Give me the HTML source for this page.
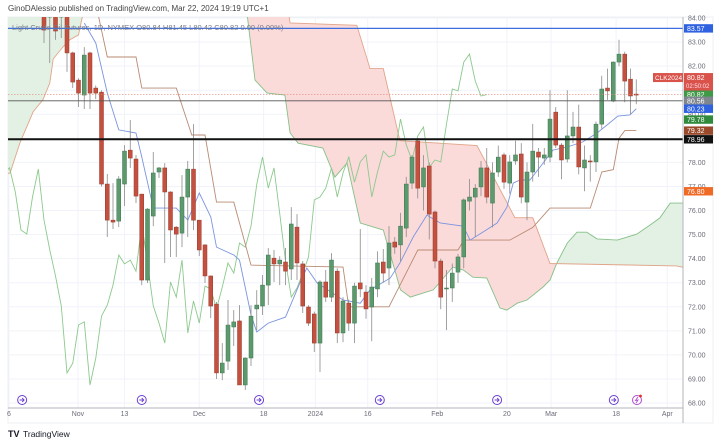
<!DOCTYPE html>
<html style="margin:0;overflow:hidden;width:722px;height:441px"><head><meta charset="utf-8"><style>
html,body{margin:0;padding:0;background:#fff;width:722px;height:441px;overflow:hidden;font-family:"Liberation Sans",sans-serif}
svg{display:block;position:absolute;left:0;top:0}
</style></head><body>
<svg id="chart" width="722" height="441" xmlns="http://www.w3.org/2000/svg" font-family="Liberation Sans, sans-serif" overflow="hidden">
<text x="8" y="11" font-size="8" fill="#444">GinoDAlessio published on TradingView.com, Mar 22, 2024 19:19 UTC+1</text>
<rect x="8" y="17" width="705" height="406" fill="#fff" stroke="#eceff3"/>
<g id="grid"></g><g id="cloud"></g><g id="lines"></g><g id="candles"></g><g id="hlines"></g>
<text x="12" y="30" font-size="7.5" fill="#787b86">Light Crude Oil Futures, 1D, NYMEX  O80.84  H81.45  L80.42  C80.82  0.00 (0.00%)</text>
<line x1="8" y1="408" x2="683" y2="408" stroke="#b2b5be"/>
<line x1="683" y1="17" x2="683" y2="423" stroke="#b2b5be"/>
<g id="axes"></g><g id="badges"></g><g id="icons"></g>
<g><text x="8" y="437" font-size="9" font-weight="bold" fill="#131722">TV</text><text x="23" y="437" font-size="8.5" fill="#131722">TradingView</text></g>
</svg>
<script>
const opens=[84.33,84.04,84.33,84.04,84.33,82.55,81.42,80.80,82.55,81.09,80.92,77.10,75.60,75.56,77.10,78.51,78.14,76.68,73.11,75.77,77.60,77.77,76.77,75.31,75.06,76.56,77.72,75.60,74.57,73.28,72.11,69.25,69.74,71.16,71.41,68.75,69.87,71.91,72.03,72.90,74.02,73.78,73.86,73.57,75.31,73.78,71.99,71.70,70.49,73.03,72.40,73.48,70.91,72.15,71.32,72.99,72.61,71.99,72.74,73.86,73.61,74.69,74.57,75.27,77.14,78.89,76.98,77.85,75.94,73.90,72.78,72.78,73.44,74.07,76.39,76.56,76.98,77.77,76.31,77.60,78.31,77.14,78.06,78.35,76.35,77.60,78.43,78.18,78.22,80.09,78.72,78.14,79.10,79.47,77.77,78.06,78.02,79.59,81.09,80.55,82.17,82.50,81.46,80.84];
const closes=[83.50,84.33,83.46,84.33,82.55,81.34,80.88,82.46,80.88,80.88,77.10,75.60,75.52,77.31,78.47,78.18,76.60,73.11,76.06,77.56,77.77,76.77,75.19,75.02,76.56,77.72,75.60,74.36,73.28,72.03,69.25,69.66,71.24,71.37,68.75,69.87,71.61,72.07,72.90,74.15,73.78,73.94,73.48,75.44,73.82,72.03,71.32,70.49,73.03,72.40,73.94,70.91,72.24,71.32,72.86,72.74,71.91,72.82,73.82,73.40,74.65,74.48,75.35,77.10,78.22,76.93,77.77,75.85,73.90,72.40,72.78,73.40,74.07,76.44,76.56,76.93,77.77,76.56,77.56,78.22,77.18,78.02,78.31,76.56,77.60,78.47,78.22,78.31,79.80,78.72,78.10,79.10,79.47,77.81,78.10,78.02,79.59,81.05,80.97,82.17,82.50,81.38,80.76,80.82];
const highs=[84.6,84.6,84.6,84.6,84.6,82.6,81.5,82.79,82.6,81.2,81.0,77.52,77.14,77.43,78.72,79.76,78.31,76.7,76.1,78.43,77.81,77.97,76.8,75.35,77.47,78.06,79.59,75.6,74.6,73.3,72.2,70.49,72.28,71.86,72.07,69.9,72.07,72.69,73.32,74.44,74.36,74.1,74.44,76.14,75.85,73.9,72.07,71.8,73.1,73.53,74.23,73.6,72.4,72.3,73.0,75.23,72.9,73.2,74.3,74.4,75.35,74.9,75.9,77.4,78.3,78.93,78.3,78.0,76.0,74.0,73.53,73.8,74.2,76.5,77.31,77.1,78.06,78.6,78.0,78.7,78.4,78.3,78.9,78.8,78.0,79.6,78.6,78.6,81.0,80.3,78.8,81.0,80.1,80.4,78.7,78.3,79.7,81.6,81.9,82.2,83.1,82.6,81.9,81.45];
const lows=[82.96,82.13,83.09,83.17,81.76,81.09,80.30,80.22,80.22,80.63,77.0,74.90,75.23,75.31,76.19,77.77,76.31,72.90,72.99,75.35,77.35,73.82,74.07,74.07,74.48,74.90,75.19,74.11,72.99,71.53,69.00,68.95,69.37,70.37,68.75,68.54,69.54,71.03,71.66,72.07,73.03,72.90,72.90,73.11,73.11,71.74,71.2,70.12,69.29,72.2,72.2,70.49,70.53,71.0,70.49,72.4,71.5,70.57,72.4,73.0,72.9,74.2,73.9,74.9,76.9,76.5,76.0,74.8,73.6,71.9,71.03,72.2,73.0,73.6,76.0,74.9,76.6,76.3,75.3,77.4,76.9,76.7,77.9,76.3,75.6,77.2,77.4,77.9,78.0,78.6,77.3,78.0,78.8,77.5,76.8,77.2,77.6,79.4,80.6,80.5,82.0,80.5,80.0,80.42];
const tenkanIdx=[7,9,11,13,16,17,19,23,25,27,29,30,33,34,36,37,39,42,44.5,45.7,47.5,52,55,56.7,60.2,61.9,64.2,66.6,68.9,72.9,74.1,76.3,78.8,80.5,81.6,82.8,84.5,86.8,88.5,91,93.7,96.2,97.9,99.8,101.9,103];
const tenkanVal=[83.79,82.96,80.88,79.35,79.22,78.22,76.10,76.10,75.60,76.73,75.73,74.48,74.15,73.94,71.66,70.95,71.32,71.57,72.99,73.61,72.99,72.28,72.15,72.70,73.19,73.82,74.90,75.81,75.48,75.35,74.77,75.10,75.48,76.14,77.14,77.27,77.27,77.97,78.51,78.64,78.85,79.22,79.55,79.93,79.97,80.23];
const kijunIdx=[9,10,11,16,17,23,25.7,28,30,33,36,52,53,60,65,72,73,81,82,85,88,95,97,99,100,101,103];
const kijunVal=[84.6,83.5,82.38,82.38,81.09,81.09,79.14,79.14,76.35,76.35,73.73,73.65,72.0,72.0,74.36,74.36,74.77,74.77,74.9,75.3,76.1,76.1,77.6,77.7,79.0,79.32,79.32];
const spanAIdx=[-7,35,35.3,36.7,38.8,41.9,42.8,44.2,48.5,50.6,52.7,55,59,62,63.7,67.7,71.1,72.9,74.6,77,79.3,80.5,82.3,84,86.8,88,89.2,91,92.7,94.4,96.2,99.7,103.1,105.4,107.1,108.9,112];
const spanAVal=[86,86,84.2,81.42,80.88,80.8,79.22,78.8,78.6,77.39,77.97,75.48,75.19,72.7,72.4,72.7,73.65,73.53,73.23,73.19,71.95,71.86,72.15,72.28,72.82,73.11,73.82,74.65,75.1,75.1,74.82,74.77,75.02,75.4,75.69,76.31,76.31];
const spanBIdx=[-7,-5.9,-4.2,-1.9,-0.2,1,1.6,3.3,4.5,6,7.5,42,42.8,54.4,56.7,59,61.9,75.3,81.9,85,88,110,112];
const spanBVal=[77.5,77.56,78.8,80.1,80.6,81.3,82.3,82.8,83.1,83.3,85,85,83.8,83.7,81.9,81.9,78.9,78.7,75.7,75.7,73.8,73.7,73.6];
const priceTicks=[84,83,82,81,80,79,78,77,76,75,74,73,72,71,70,69,68];
const dateLabels=["6","Nov","13","Dec","18","2024","16","Feb","20","Mar","18","Apr"];
const dateIdx=[-6.1,5.9,14,27,38.2,47.2,56.3,68.4,80.5,88.2,99.5,108.4];
const levelVals=[83.57,80.56,78.96];
const badgeLabels=["83.57","80.82","80.56","80.23","79.78","79.32","78.96","76.80"];
const badgeVals=[83.57,80.82,80.56,80.23,79.78,79.32,78.96,76.80];
const eventIdx=[-3.8,17.0,37.4,58.4,78.8,99.1];

const NS='http://www.w3.org/2000/svg';
const X0=8,X1=683,Y0=17,Y1=408;
function xS(i){return 44+i*5.75;}
function yS(p){return 403-(p-68)*24.06;}
function mk(tag,attrs,parent){const e=document.createElementNS(NS,tag);for(const k in attrs)e.setAttribute(k,attrs[k]);parent.appendChild(e);return e;}
const svg=document.getElementById('chart');
const defs=mk('defs',{},svg);
const cp=mk('clipPath',{id:'plotclip'},defs);mk('rect',{x:X0,y:Y0,width:X1-X0,height:Y1-Y0},cp);
['grid','cloud','lines','candles','hlines'].forEach(id=>document.getElementById(id).setAttribute('clip-path','url(#plotclip)'));

const grid=document.getElementById('grid');
priceTicks.forEach(p=>{const l=mk('line',{x1:X0,x2:X1,y1:yS(p),y2:yS(p),stroke:'#f0f3fa'},grid);

});
dateIdx.forEach(d=>{const l=mk('line',{x1:xS(d),x2:xS(d),y1:Y0,y2:Y1,stroke:'#f0f3fa'},grid);

});

function pts(ix,vals){return ix.map((d,k)=>Math.min(Math.max(xS(d),0),720).toFixed(1)+','+Math.min(Math.max(yS(vals[k]),1),424).toFixed(1));}
const aPts=pts(spanAIdx,spanAVal),bPts=pts(spanBIdx,spanBVal);
const aL=Math.max(xS(spanAIdx[0]),0),aR=Math.min(xS(spanAIdx[spanAIdx.length-1]),720),bL=Math.max(xS(spanBIdx[0]),0),bR=Math.min(xS(spanBIdx[spanBIdx.length-1]),720);
const underA=mk('clipPath',{id:'underA'},defs);mk('polygon',{points:aPts.join(' ')+` ${aR},425 ${aL},425`},underA);
const overA=mk('clipPath',{id:'overA'},defs);mk('polygon',{points:aPts.join(' ')+` ${aR},0 ${aL},0`},overA);
const cloud=document.getElementById('cloud');
const gA=mk('g',{'clip-path':'url(#overA)'},cloud);
const redFill=mk('polygon',{points:bPts.join(' ')+` ${bR},425 ${bL},425`,fill:'#fbdada'},gA);


const gB=mk('g',{'clip-path':'url(#underA)'},cloud);
const grnFill=mk('polygon',{points:bPts.join(' ')+` ${bR},0 ${bL},0`,fill:'#e3f1e4'},gB);



const lines=document.getElementById('lines');
function poly(ix,vals,color,name){const e=mk('polyline',{points:ix.map((d,k)=>xS(d).toFixed(1)+','+yS(vals[k]).toFixed(1)).join(' '),fill:'none',stroke:color,'stroke-width':0.9},lines);

}
poly(spanAIdx,spanAVal,'#86c088','senkou-span-a');
poly(spanBIdx,spanBVal,'#e0a58a','senkou-span-b');
const chIdx=closes.map((c,i)=>i-26);
poly(chIdx,closes,'#8cc98c','chikou-span');
poly(kijunIdx,kijunVal,'#b98b72','kijun-sen');
poly(tenkanIdx,tenkanVal,'#7b95e0','tenkan-sen');

const cg=document.getElementById('candles');
opens.forEach((o,i)=>{const c=closes[i],up=c>=o;
const col=up?'#5c9a6e':'#c4513f',edge=up?'#3f7650':'#9a3a2c';
const x=xS(i);
const g=mk('g',{},cg);


mk('line',{x1:x,x2:x,y1:yS(highs[i]),y2:yS(lows[i]),stroke:'#8a8a8a','stroke-width':0.8},g);
const top=yS(Math.max(o,c)),bot=yS(Math.min(o,c));
mk('rect',{x:x-2,y:top,width:4,height:Math.max(1,bot-top),fill:col,stroke:edge,'stroke-width':0.5},g);});

const hl=document.getElementById('hlines');
const l1=mk('line',{x1:X0,x2:X1,y1:yS(levelVals[0]),y2:yS(levelVals[0]),stroke:'#3d6fe0','stroke-width':1.2},hl);


const l2=mk('line',{x1:X0,x2:X1,y1:yS(levelVals[1]),y2:yS(levelVals[1]),stroke:'#555','stroke-width':0.9},hl);


const l3=mk('line',{x1:X0,x2:X1,y1:yS(levelVals[2]),y2:yS(levelVals[2]),stroke:'#111','stroke-width':2},hl);


const l4=mk('line',{x1:X0,x2:X1,y1:yS(closes[closes.length-1]),y2:yS(closes[closes.length-1]),stroke:'#e08a7a','stroke-width':0.7,'stroke-dasharray':'1.5,1.5'},hl);



const ax=document.getElementById('axes');
priceTicks.forEach(p=>{const t=mk('text',{x:688,y:yS(p)+2.5,'font-size':7,fill:'#6a6d78'},ax);t.textContent=p.toFixed(2);

});
dateLabels.forEach((d,k)=>{const t=mk('text',{x:xS(dateIdx[k]),y:416,'font-size':7,fill:'#6a6d78','text-anchor':'middle'},ax);t.textContent=d;

});

const bg=document.getElementById('badges');
const bcols=['#2f62e0','#3f9a48','#80868f','#2f62e0','#2f8a3c','#9a4a2a','#111','#f06a26'];
badgeVals.forEach((v,k)=>{const y=yS(v);const g=mk('g',{},bg);


mk('rect',{x:684,y:y-4.2,width:29,height:8.4,fill:bcols[k]},g);
const t=mk('text',{x:687,y:y+2.6,'font-size':7,fill:'#fff'},g);t.textContent=badgeLabels[k];});
const lastY=yS(closes[closes.length-1]);
const tag=mk('g',{},bg);


mk('rect',{x:653,y:lastY-21.5,width:30,height:9,fill:'#d9534a'},tag);
const tt=mk('text',{x:655,y:lastY-14.5,'font-size':6.5,fill:'#fff'},tag);tt.textContent='CLK2024';
mk('rect',{x:684,y:lastY-21.5,width:29,height:17.5,fill:'#d9534a'},tag);
const t1=mk('text',{x:687,y:lastY-14.5,'font-size':7,fill:'#fff'},tag);t1.textContent=closes[closes.length-1].toFixed(2);
const t2=mk('text',{x:686,y:lastY-6.5,'font-size':6,fill:'#fde'},tag);t2.textContent='02:50:02';

const ic=document.getElementById('icons');
eventIdx.forEach(d=>{const g=mk('g',{},ic);


const cx=xS(d);
mk('circle',{cx:cx,cy:400,r:4.5,fill:'#fff',stroke:'#6a3fd0','stroke-width':1},g);
mk('path',{d:`M${cx-2.5},${400} L${cx+2},${400} M${cx},${398} L${cx+2},${400} L${cx},${402}`,fill:'none',stroke:'#6a3fd0','stroke-width':0.9},g);});
const lg=mk('g',{},ic);


mk('circle',{cx:637,cy:400,r:4.5,fill:'#fff',stroke:'#b04fd0','stroke-width':1},lg);
mk('path',{d:'M638,397 L635.5,400.5 L638,400 L636,403',fill:'none',stroke:'#b04fd0','stroke-width':0.9},lg);
mk('circle',{cx:640.5,cy:396,r:1.4,fill:'#e03030'},lg);
</script>
</body></html>
